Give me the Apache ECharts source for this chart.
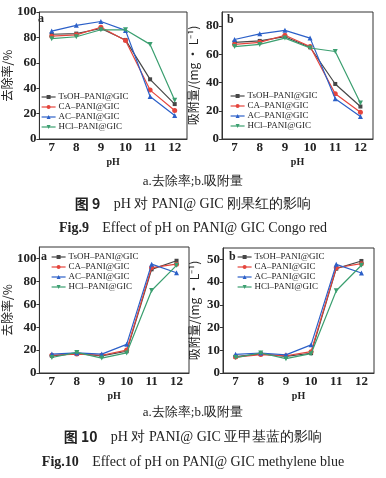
<!DOCTYPE html>
<html><head><meta charset="utf-8">
<script src="https://cdn.jsdelivr.net/npm/echarts@6/dist/echarts.min.js"></script>
<style>html,body{margin:0;padding:0;background:#fff}#c{width:386px;height:478px}</style>
</head><body><div id="c"></div>
<script>
// ---- data ----
const phValues = ['7', '8', '9', '10', '11', '12'];
const seriesNames = ['TsOH–PANI@GIC', 'CA–PANI@GIC', 'AC–PANI@GIC', 'HCl–PANI@GIC'];
// Fig.9 Congo red: removal rate (%)
const crRemovalTsOH = [82.5, 83, 87, 78, 47, 27.5];
const crRemovalCA   = [81, 82, 88, 77.5, 38.5, 22.5];
const crRemovalAC   = [85, 89.5, 92.5, 85.5, 33.5, 18.5];
const crRemovalHCl  = [79, 80.5, 86, 86, 74.5, 30.5];
// Fig.9 Congo red: adsorption (mg/L)
const crAdsTsOH = [68.5, 69.5, 72.5, 65, 39, 23];
const crAdsCA   = [67, 68.5, 73.5, 65.5, 32, 19];
const crAdsAC   = [70.5, 74.5, 77, 71.5, 28.5, 16];
const crAdsHCl  = [65.5, 67, 71.5, 64.5, 62, 25.5];
// Fig.10 methylene blue: removal rate (%)
const mbRemovalTsOH = [15, 17, 15, 19, 90.5, 98];
const mbRemovalCA   = [15.5, 16.5, 15.5, 20, 92, 95];
const mbRemovalAC   = [16.5, 17.5, 16.5, 25, 95, 87.5];
const mbRemovalHCl  = [13.5, 18, 13, 17.5, 72, 94];
// Fig.10 methylene blue: adsorption (mg/L)
const mbAdsTsOH = [7.2, 8.4, 7.3, 8.7, 45.9, 49.3];
const mbAdsCA   = [7, 8.1, 7.6, 9.4, 46.3, 48.1];
const mbAdsAC   = [8.2, 8.8, 8, 12.4, 47.8, 44];
const mbAdsHCl  = [6.8, 8.8, 6.3, 8.5, 36.2, 47.4];
// y axis ranges [min, max, interval]
const yRangeCrRemoval = [0, 100, 20];
const yRangeCrAds = [0, 90, 20];
const yRangeMbRemoval = [0, 110, 20];
const yRangeMbAds = [0, 55, 10];
const yNameRemoval = '去除率/%';
const yNameAds = '吸附量/(mg · L⁻¹)';
const xName = 'pH';
const captionsSub = 'a.去除率;b.吸附量';
const caption9cn = ['图 9', 'pH 对 PANI@ GIC 刚果红的影响'];
const caption9en = ['Fig.9', 'Effect of pH on PANI@ GIC Congo red'];
const caption10cn = ['图 10', 'pH 对 PANI@ GIC 亚甲基蓝的影响'];
const caption10en = ['Fig.10', 'Effect of pH on PANI@ GIC methylene blue'];

// ---- style ----
const colors = ['#474747', '#e5453d', '#2c60c8', '#3b9f70'];
const symbols = ['rect', 'circle', 'triangle', 'triangle'];
const rotations = [0, 0, 0, 180];
const serif = 'Liberation Serif';
const cjk = 'Noto Sans CJK SC';

const panels = [
  {grid: {left: 34, top: 12, width: 153, height: 127}, yr: yRangeCrRemoval, yName: yNameRemoval, data: [crRemovalTsOH, crRemovalCA, crRemovalAC, crRemovalHCl], legend: {left: 41, top: 92}, tag: 'a', tagPos: [38, 13]},
  {grid: {left: 222, top: 12, width: 151, height: 127}, yr: yRangeCrAds, yName: yNameAds, data: [crAdsTsOH, crAdsCA, crAdsAC, crAdsHCl], legend: {left: 230, top: 91}, tag: 'b', tagPos: [227, 14]},
  {grid: {left: 35, top: 247, width: 154, height: 126}, yr: yRangeMbRemoval, yName: yNameRemoval, data: [mbRemovalTsOH, mbRemovalCA, mbRemovalAC, mbRemovalHCl], legend: {left: 51, top: 252}, tag: 'a', tagPos: [41, 251]},
  {grid: {left: 223, top: 248, width: 151, height: 125}, yr: yRangeMbAds, yName: yNameAds, data: [mbAdsTsOH, mbAdsCA, mbAdsAC, mbAdsHCl], legend: {left: 237, top: 252}, tag: 'b', tagPos: [229, 251]}
];

const grid = [], xAxis = [], yAxis = [], series = [], legend = [], graphic = [];
panels.forEach((p, i) => {
  grid.push(Object.assign({show: true, borderColor: '#333', borderWidth: 1, backgroundColor: 'transparent'}, p.grid));
  xAxis.push({
    type: 'category', gridIndex: i, data: phValues, boundaryGap: true,
    name: xName, nameLocation: 'middle', nameGap: 18,
    nameTextStyle: {fontFamily: serif, fontWeight: 'bold', fontSize: 10, color: '#222'},
    axisLine: {lineStyle: {color: '#333', width: 1}},
    axisTick: {alignWithLabel: true, inside: true, length: 4, lineStyle: {color: '#333'}},
    axisLabel: {fontFamily: serif, fontWeight: 'bold', fontSize: 13, color: '#222', margin: 2}
  });
  yAxis.push({
    type: 'value', gridIndex: i, min: p.yr[0], max: p.yr[1], interval: p.yr[2],
    name: p.yName, nameLocation: 'middle', nameRotate: 90, nameGap: 23,
    nameTextStyle: {fontFamily: cjk, fontSize: 12, color: '#222'},
    splitLine: {show: false},
    axisLine: {show: true, lineStyle: {color: '#333', width: 1}},
    axisTick: {show: true, inside: false, length: 3, lineStyle: {color: '#333'}},
    axisLabel: {fontFamily: serif, fontWeight: 'bold', fontSize: 13, color: '#222', margin: 3,
      showMaxLabel: p.yr[1] % p.yr[2] === 0}
  });
  p.data.forEach((d, k) => {
    series.push({
      type: 'line', name: seriesNames[k], xAxisIndex: i, yAxisIndex: i, data: d,
      symbol: symbols[k], symbolRotate: rotations[k], symbolSize: k === 0 ? 4 : 5,
      color: colors[k], lineStyle: {width: 1.2, color: colors[k]}, itemStyle: {color: colors[k]},
      animation: false, z: 2 + k
    });
  });
  legend.push({
    orient: 'vertical', left: p.legend.left, top: p.legend.top,
    data: seriesNames, itemWidth: 14, itemHeight: 5, itemGap: 0, padding: 0,
    lineStyle: {width: 1.2},
    textStyle: {fontFamily: serif, fontSize: 9, color: '#222', lineHeight: 10, padding: [0, 0, 0, -2]},
    selectedMode: false
  });
  graphic.push({type: 'text', left: p.tagPos[0], top: p.tagPos[1],
    style: {text: p.tag, font: 'bold 12px ' + serif, fill: '#222'}});
});

function caption(y, parts, size, cjkBold) {
  return {type: 'text', x: 193, y: y,
    style: {text: '{b|' + parts[0] + '}    {n|' + parts[1] + '}', textAlign: 'center', textVerticalAlign: 'middle',
      rich: {
        b: {fontFamily: cjkBold ? cjk : serif, fontWeight: 'bold', fontSize: size, fill: '#222'},
        n: {fontFamily: serif, fontSize: size, fill: '#222'}
      }}};
}
graphic.push({type: 'text', x: 193, y: 182, style: {text: captionsSub, textAlign: 'center', textVerticalAlign: 'middle', font: '13px ' + serif, fill: '#222'}});
graphic.push(caption(204, caption9cn, 14, true));
graphic.push(caption(228, caption9en, 14, false));
graphic.push({type: 'text', x: 193, y: 413, style: {text: captionsSub, textAlign: 'center', textVerticalAlign: 'middle', font: '13px ' + serif, fill: '#222'}});
graphic.push(caption(437, caption10cn, 14, true));
graphic.push(caption(462, caption10en, 14, false));

const chart = echarts.init(document.getElementById('c'));
chart.setOption({backgroundColor: '#fff', animation: false, grid, xAxis, yAxis, series, legend, graphic});
</script></body></html>
